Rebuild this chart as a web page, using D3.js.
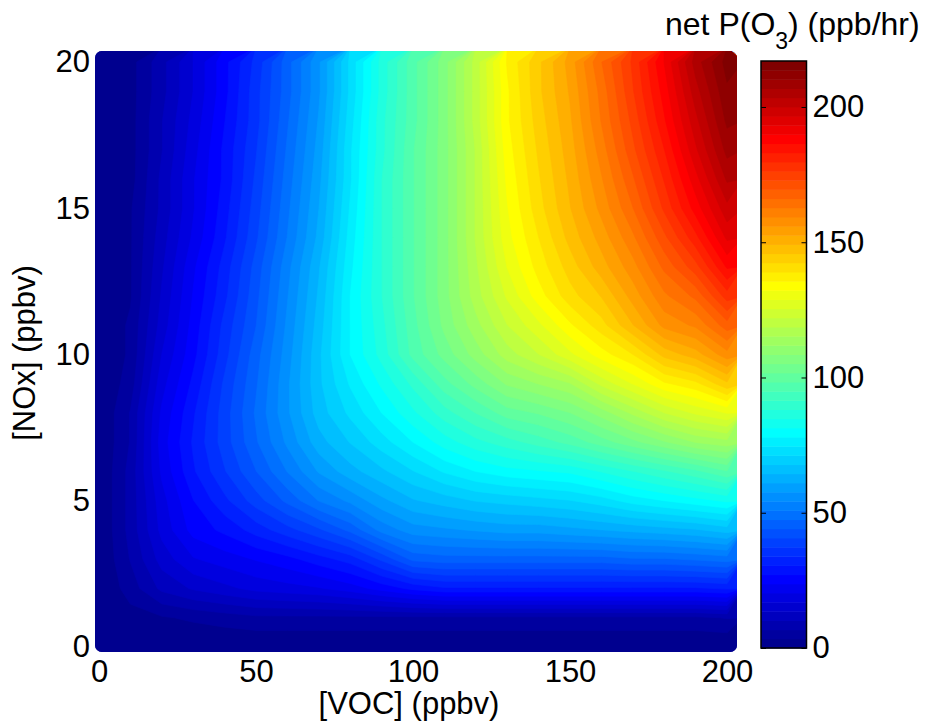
<!DOCTYPE html>
<html>
<head>
<meta charset="utf-8">
<script src="https://cdn.jsdelivr.net/npm/d3@7"></script>
<style>
  body { margin: 0; background: #fff; }
  svg { display: block; font-family: "Liberation Sans", Arial, Helvetica, sans-serif; }
</style>
</head>
<body>
<div class="chart"></div>
<script>
// grid of model runs: VOC along x, NOx along y
const vocLevels = [0, 10, 20, 30, 40, 50, 60, 70, 80, 90, 100, 110, 120, 130, 140, 150, 160, 170, 180, 190, 200];
const noxLevels = [0, 1, 2, 3, 4, 5, 6, 7, 8, 9, 10, 11, 12, 13, 14, 15, 16, 17, 18, 19, 20];

// net P(O3) in ppb/hr, one row per NOx level (row 0 = 0 ppbv), one column per VOC level
const netPO3 = [
  [0, 0, 0, 0, 0, 0, 0, 0, 0, 0, 0, 0, 0, 0, 0, 0, 0, 0, 0, 0, 0],
  [0, 2, 3, 4, 5, 6, 6, 6, 6, 6, 6, 6, 6, 6, 6, 6, 6, 6, 6, 6, 7],
  [0, 5, 11, 14, 16, 18, 19, 20, 22, 25, 28, 30, 30, 30, 30, 30, 30, 30, 30, 30, 31],
  [0, 7, 15, 20, 22, 24, 26, 29, 32, 38, 45, 46, 46, 46, 46, 46, 46, 47, 47, 48, 49],
  [0, 8, 18, 25, 28, 32, 36, 40, 45, 52, 56, 57, 58, 59, 59, 60, 61, 62, 63, 64, 66],
  [0, 8, 19, 27, 33, 39, 45, 51, 55, 60, 64, 66, 68, 69, 70, 71, 73, 76, 78, 80, 82],
  [0, 8, 21, 30, 37, 44, 51, 58, 63, 67, 71, 75, 78, 80, 81, 82, 85, 88, 91, 94, 98],
  [0, 7, 22, 31, 39, 47, 55, 63, 68, 73, 78, 83, 87, 90, 93, 96, 100, 104, 108, 112, 114],
  [0, 7, 21, 30, 39, 48, 57, 66, 72, 78, 84, 90, 95, 100, 102, 105, 110, 116, 122, 126, 129],
  [0, 5, 19, 28, 38, 47, 57, 67, 75, 82, 89, 97, 103, 109, 112, 115, 123, 129, 135, 138, 145],
  [0, 4, 17, 26, 36, 46, 56, 67, 78, 86, 96, 103, 110, 117, 122, 128, 134, 139, 147, 151, 158],
  [0, 4, 15, 25, 35, 44, 55, 66, 78, 87, 97, 106, 114, 122, 128, 135, 141, 149, 157, 160, 168],
  [0, 3, 14, 24, 33, 43, 54, 65, 78, 88, 98, 107, 117, 126, 134, 141, 146, 154, 162, 167, 178],
  [0, 3, 13, 23, 32, 42, 53, 64, 77, 88, 98, 107, 118, 129, 137, 144, 151, 158, 167, 175, 187],
  [0, 3, 12, 21, 30, 40, 51, 62, 76, 88, 98, 107, 119, 131, 139, 147, 154, 162, 172, 182, 194],
  [0, 3, 11, 20, 29, 39, 50, 61, 75, 88, 98, 107, 119, 132, 141, 149, 157, 166, 177, 188, 199],
  [0, 2, 11, 20, 28, 38, 49, 60, 74, 88, 98, 107, 119, 133, 142, 150, 159, 169, 180, 192, 204],
  [0, 2, 10, 19, 28, 37, 48, 59, 74, 87, 98, 107, 119, 134, 143, 151, 161, 172, 183, 196, 208],
  [0, 2, 10, 18, 27, 36, 47, 58, 73, 87, 97, 107, 120, 135, 144, 152, 163, 174, 186, 199, 211],
  [0, 2, 9, 17, 26, 36, 46, 57, 72, 86, 97, 107, 120, 135, 145, 153, 164, 176, 188, 202, 213],
  [0, 2, 9, 17, 26, 35, 46, 57, 72, 86, 97, 107, 120, 136, 145, 154, 166, 177, 190, 205, 215]
];

// axis ticks
const vocTicks = [0, 50, 100, 150, 200];
const noxTicks = [0, 5, 10, 15, 20];
const colorTicks = [0, 50, 100, 150, 200];
const colorMax = 217;
const nColors = 64;

const fontSize = '31px';

// matlab jet(64), k = 0..63
function jet64(k) {
  const u = j => (j < 1 || j > 47) ? 0 : j <= 16 ? j / 16 : j <= 31 ? 1 : (48 - j) / 16;
  const i = k + 1;
  return d3.rgb(255 * u(i - 24), 255 * u(i - 8), 255 * u(i + 8)).toString();
}

const svg = d3.select('.chart')
  .append('svg')
    .attr('width', 925)
    .attr('height', 725);

svg.append('rect')
  .attr('width', 925)
  .attr('height', 725)
  .attr('fill', '#fff');

const xScale = d3.scaleLinear().domain([0, 200]).range([99, 727]);
const yScale = d3.scaleLinear().domain([0, 20]).range([647, 62]);
const cScale = d3.scaleLinear().domain([0, colorMax]).range([648, 61]);

// plotted field, clipped to the rounded patch of markers
svg.append('clipPath')
    .attr('id', 'field-clip')
  .append('rect')
    .attr('x', 95)
    .attr('y', 51)
    .attr('width', 642)
    .attr('height', 601)
    .attr('rx', 7)
    .attr('ry', 7);

const thresholds = d3.range(nColors).map(i => i * colorMax / nColors);
const contours = d3.contours()
  .size([vocLevels.length, noxLevels.length])
  .thresholds(thresholds)(netPO3.flat());

const vocStep = vocLevels[1] - vocLevels[0];
const noxStep = noxLevels[1] - noxLevels[0];
const gridPath = d3.geoPath(d3.geoTransform({
  point: function(x, y) {
    this.stream.point(xScale((x - 0.5) * vocStep), yScale((y - 0.5) * noxStep));
  }
}));

const field = svg.append('g')
  .attr('clip-path', 'url(#field-clip)');

field.append('rect')
  .attr('x', 90).attr('y', 45).attr('width', 655).attr('height', 615)
  .attr('fill', jet64(0));

field.selectAll('path')
  .data(contours)
  .enter()
  .append('path')
    .attr('d', gridPath)
    .attr('fill', (d, i) => jet64(i))
    .attr('stroke', (d, i) => jet64(i))
    .attr('stroke-width', 0.6);

// axes (labels only, no lines)
function styleAxis(g) {
  g.select('.domain').remove();
  g.selectAll('text')
    .style('font-size', fontSize)
    .style('font-family', '"Liberation Sans", Arial, sans-serif')
    .attr('fill', '#000');
}

svg.append('g')
    .attr('transform', `translate(0, ${yScale(0)})`)
    .call(d3.axisBottom(xScale).tickValues(vocTicks).tickSize(0).tickPadding(13))
    .call(styleAxis);

svg.append('g')
    .attr('transform', `translate(${xScale(0)}, 0)`)
    .call(d3.axisLeft(yScale).tickValues(noxTicks).tickSize(0).tickPadding(9))
    .call(styleAxis);

svg.append('text')
  .attr('x', 409)
  .attr('y', 714)
  .attr('text-anchor', 'middle')
  .style('font-size', fontSize)
  .text('[VOC] (ppbv)');

svg.append('text')
  .attr('transform', 'translate(35, 353) rotate(-90)')
  .attr('text-anchor', 'middle')
  .style('font-size', fontSize)
  .text('[NOx] (ppbv)');

// colour bar
const cbLeft = 761;
const cbRight = 806.5;

svg.append('g')
  .selectAll('rect')
  .data(d3.range(nColors))
  .enter()
  .append('rect')
    .attr('x', cbLeft)
    .attr('width', cbRight - cbLeft)
    .attr('y', i => cScale((i + 1) * colorMax / nColors))
    .attr('height', i => cScale(i * colorMax / nColors) - cScale((i + 1) * colorMax / nColors) + 0.5)
    .attr('fill', i => jet64(i));

svg.append('g')
    .attr('transform', `translate(${cbRight}, 0)`)
    .call(d3.axisRight(cScale).tickValues(colorTicks).tickSize(-5).tickPadding(6))
    .call(styleAxis)
    .selectAll('line').attr('stroke', '#000');

svg.append('g')
    .attr('transform', `translate(${cbLeft}, 0)`)
    .call(d3.axisLeft(cScale).tickValues(colorTicks).tickSize(-5).tickFormat(''))
    .call(styleAxis)
    .selectAll('line').attr('stroke', '#000');

svg.append('rect')
  .attr('x', cbLeft)
  .attr('y', cScale(colorMax))
  .attr('width', cbRight - cbLeft)
  .attr('height', cScale(0) - cScale(colorMax))
  .attr('fill', 'none')
  .attr('stroke', '#000')
  .attr('stroke-width', 1.5);

// colour bar title with subscript
const title = svg.append('text')
  .attr('x', 665)
  .attr('y', 35)
  .style('font-size', '32px');
title.append('tspan').text('net P(O');
title.append('tspan').attr('dy', 14).style('font-size', '23px').text('3');
title.append('tspan').attr('dy', -14).text(') (ppb/hr)');
</script>
</body>
</html>
